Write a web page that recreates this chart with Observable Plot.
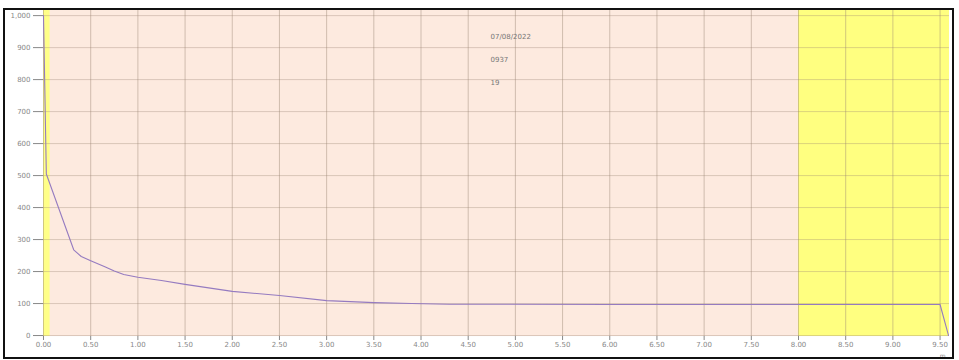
<!DOCTYPE html>
<html>
<head>
<meta charset="utf-8">
<script src="https://cdn.jsdelivr.net/npm/d3@7"></script>
<script src="https://cdn.jsdelivr.net/npm/@observablehq/plot@0.6"></script>
<style>
  body { margin: 0; background: #fff; }
  #wrap { position: relative; width: 959px; height: 360px; }
  #border { position: absolute; left: 3px; top: 8px; width: 947px; height: 347px; border: 2px solid #111; pointer-events: none; }
</style>
</head>
<body>
<div id="wrap"><div id="border"></div></div>
<script>
// Curve values (x, y)
const xs = [0, 0.03, 0.32, 0.40, 0.50, 0.65, 0.75, 0.85, 1.00, 1.25, 1.50, 2.00, 2.50, 3.00, 3.50, 3.90, 4.30, 6.00, 8.00, 9.50, 9.59];
const ys = [1000, 505, 268, 247, 234, 215, 202, 191, 182, 172, 160, 138, 125, 109, 103, 100, 98, 97, 97, 97, 0];

// Background bands
const bandStart = [0, 0, 8.0];
const bandEnd = [9.6, 0.07, 9.6];
const bandColor = ["#fdeadf", "#ffff88", "#ffff80"];

const xTicks = d3.range(0, 20).map(i => i * 0.5);
const yTicks = d3.range(0, 11).map(i => i * 100);
const notes = ["07/08/2022", "0937", "19"];

const curve = xs.map((x, i) => ({x, y: ys[i]}));
const bands = bandStart.map((s, i) => ({s, e: bandEnd[i], c: bandColor[i]}));

const chart = Plot.plot({
  width: 959,
  height: 360,
  marginLeft: 43,
  marginRight: 10,
  marginTop: 10,
  marginBottom: 24,
  style: {fontFamily: "DejaVu Sans, sans-serif", fontSize: "7px", color: "#888", background: "transparent"},
  x: {domain: [0, 9.6], ticks: xTicks, tickFormat: d3.format(".2f"), tickSize: 4, tickPadding: 2, label: null},
  y: {domain: [-3, 1016], ticks: yTicks, tickFormat: d3.format(","), tickSize: 10, label: null},
  marks: [
    Plot.rect(bands, {x1: "s", x2: "e", y1: -3, y2: 1016, fill: "c"}),
    Plot.gridX(xTicks, {stroke: "#9a8474", strokeOpacity: 0.45}),
    Plot.gridY(yTicks, {stroke: "#9a8474", strokeOpacity: 0.35}),
    Plot.line(curve, {x: "x", y: "y", stroke: "#957bc0", strokeWidth: 1.1}),
    Plot.text([notes[0]], {frameAnchor: "top-left", dx: 447, dy: 24, fill: "#777", fontSize: 7, textAnchor: "start"}),
    Plot.text([notes[1]], {frameAnchor: "top-left", dx: 447, dy: 47, fill: "#777", fontSize: 7, textAnchor: "start"}),
    Plot.text([notes[2]], {frameAnchor: "top-left", dx: 447, dy: 70, fill: "#777", fontSize: 7, textAnchor: "start"}),
    Plot.text(["m"], {frameAnchor: "bottom-right", dx: -4, dy: 21, fill: "#888", fontSize: 6})
  ]
});
document.getElementById("wrap").prepend(chart);
</script>
</body>
</html>
